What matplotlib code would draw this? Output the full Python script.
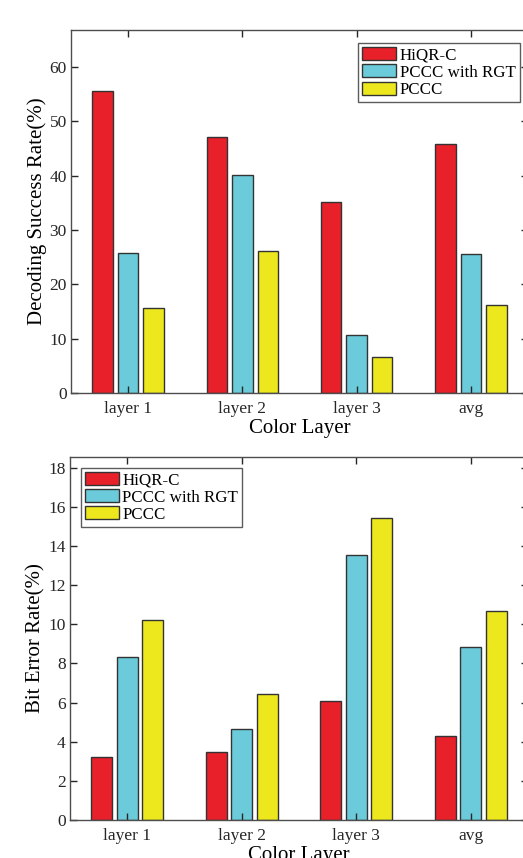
import numpy as np
import matplotlib
matplotlib.use('Agg')
import matplotlib.pyplot as plt

plt.rcParams['font.family'] = ['Liberation Serif', 'DejaVu Serif']

# data
layers = ['layer 1', 'layer 2', 'layer 3', 'avg']
methods = ['HiQR-C', 'PCCC with RGT', 'PCCC']
success_rate = [
    [55.6, 47.1, 35.1, 45.9],   # HiQR-C
    [25.8, 40.2, 10.7, 25.6],   # PCCC with RGT
    [15.6, 26.1, 6.6, 16.1],    # PCCC
]
bit_error = [
    [3.23, 3.46, 6.07, 4.27],
    [8.31, 4.66, 13.56, 8.83],
    [10.24, 6.43, 15.45, 10.70],
]
colors = ['#e8202a', '#6ccbdb', '#ede81e']

fig = plt.figure(figsize=(5.23, 8.58), dpi=100)
ax1 = fig.add_axes([0.1358, 0.542, 0.8738, 0.423])
ax2 = fig.add_axes([0.1338, 0.0443, 0.8758, 0.4234])


def draw_bars(ax, data, ylim, yticks, ylabel, legend_pos):
    x = np.arange(1, len(layers) + 1)
    offs = [-0.223, 0, 0.223]
    for i in range(len(methods)):
        ax.bar(x + offs[i], data[i], width=0.18, color=colors[i],
               edgecolor='#333333', linewidth=1.0, label=methods[i])
    ax.set_xlim(0.5, 4.5)
    ax.set_ylim(*ylim)
    ax.set_xticks(x)
    ax.set_xticklabels(layers)
    ax.set_yticks(yticks)
    ax.tick_params(direction='in', top=True, right=True, labelsize=12.5,
                   length=5, width=1, colors='#262626')
    ax.tick_params(axis='x', pad=6)
    ax.tick_params(axis='y', pad=3)
    for s in ax.spines.values():
        s.set_color('#4d4d4d')
        s.set_linewidth(1.0)
    ax.set_xlabel('Color Layer', fontsize=15, labelpad=1)
    ax.set_ylabel(ylabel, fontsize=15, labelpad=2)
    leg = ax.legend(loc='upper left', bbox_to_anchor=legend_pos, borderaxespad=0,
                    fontsize=12.2, frameon=True, fancybox=False, edgecolor='#333333',
                    handlelength=2.0, handleheight=0.8, handletextpad=0.2,
                    labelspacing=0.05, borderpad=0.26)
    leg.get_frame().set_linewidth(1.0)


draw_bars(ax1, success_rate, (0, 66.8), [0, 10, 20, 30, 40, 50, 60],
          'Decoding Success Rate(%)', (0.628, 0.965))
draw_bars(ax2, bit_error, (0, 18.56), [0, 2, 4, 6, 8, 10, 12, 14, 16, 18],
          'Bit Error Rate(%)', (0.023, 0.970))

fig.savefig('out.png', dpi=100)
